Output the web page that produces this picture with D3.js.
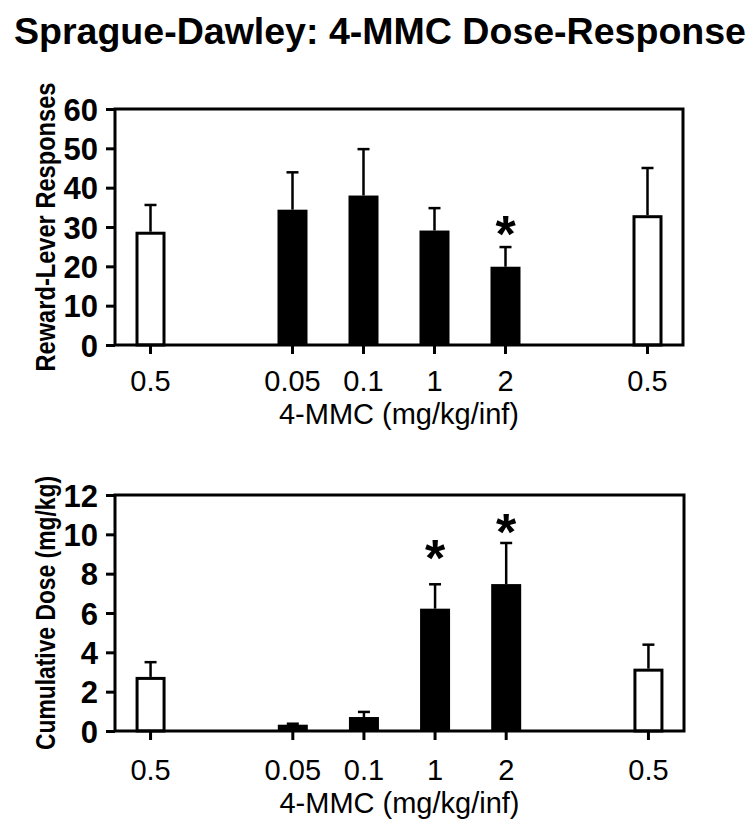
<!DOCTYPE html>
<html>
<head>
<meta charset="utf-8">
<script src="https://cdn.jsdelivr.net/npm/d3@7"></script>
<style>
  html, body { margin: 0; padding: 0; background: #fff; }
  svg { display: block; }
  text { font-family: "Liberation Sans", Arial, Helvetica, sans-serif; fill: #000; }
</style>
</head>
<body>
<svg id="chart" width="754" height="832"></svg>
<script>
// ---- Data ----
const slots = ["s0", "s1", "s2", "s3", "s4", "s5", "s6", "s7"];          // 8 positions incl. gaps
const barSlots = ["s0", "s2", "s3", "s4", "s5", "s7"];
const doseLabels = ["0.5", "0.05", "0.1", "1", "2", "0.5"];
const barKinds = ["open", "filled", "filled", "filled", "filled", "open"];

const rewardMean = [28.8, 34.4, 38.0, 29.1, 19.9, 33.0];
const rewardSem  = [6.8, 9.5, 11.8, 5.7, 5.0, 12.0];
const rewardStars = [null, null, null, null, 31.0, null];
const rewardTicks = [0, 10, 20, 30, 40, 50, 60];

const doseMean = [2.75, 0.32, 0.71, 6.22, 7.47, 3.17];
const doseSem  = [0.75, 0.05, 0.26, 1.24, 2.09, 1.22];
const doseStars = [null, null, null, 9.35, 10.7, null];
const doseTicks = [0, 2, 4, 6, 8, 10, 12];

const titleText = "Sprague-Dawley: 4-MMC Dose-Response";
const xTitle = "4-MMC (mg/kg/inf)";

// ---- Drawing ----
const svg = d3.select("#chart");

svg.append("text")
  .attr("x", 14).attr("y", 44)
  .attr("font-size", 37).attr("font-weight", "bold")
  .attr("textLength", 732).attr("lengthAdjust", "spacingAndGlyphs")
  .text(titleText);

function panel(cfg) {
  const { top, bottom, left, right, yMax, ticks, means, sems, stars, yTitle, yTitleLen, tickBase, titleBase } = cfg;
  const x = d3.scaleBand().domain(slots).range([left, right]).padding(0);
  const y = d3.scaleLinear().domain([0, yMax]).range([bottom, top]);
  const g = svg.append("g");
  const barW = 30;
  const data = barSlots.map((s, i) => ({ s, label: doseLabels[i], kind: barKinds[i], m: means[i], e: sems[i], star: stars[i] }));

  const cx = d => x(d.s) + x.bandwidth() / 2;
  g.selectAll(".err").data(data).enter().append("line")
    .attr("x1", cx).attr("x2", cx)
    .attr("y1", d => y(d.m)).attr("y2", d => y(d.m + d.e))
    .attr("stroke", "#000").attr("stroke-width", 2.5);
  g.selectAll(".cap").data(data).enter().append("line")
    .attr("x1", d => cx(d) - 6).attr("x2", d => cx(d) + 6)
    .attr("y1", d => y(d.m + d.e)).attr("y2", d => y(d.m + d.e))
    .attr("stroke", "#000").attr("stroke-width", 2.5);

  g.selectAll(".bar").data(data).enter().append("rect")
    .attr("x", d => cx(d) - barW / 2 + (d.kind === "open" ? 1.5 : 0))
    .attr("width", d => d.kind === "open" ? barW - 3 : barW)
    .attr("y", d => y(d.m) + (d.kind === "open" ? 1.5 : 0))
    .attr("height", d => y(0) - y(d.m) - (d.kind === "open" ? 1.5 : 0))
    .attr("fill", d => d.kind === "open" ? "#fff" : "#000")
    .attr("stroke", "#000").attr("stroke-width", d => d.kind === "open" ? 3 : 0);

  g.selectAll(".star").data(data.filter(d => d.star != null)).enter().append("text")
    .attr("x", cx).attr("y", d => y(d.star) + 29)
    .attr("text-anchor", "middle")
    .attr("font-size", 52).attr("font-weight", "bold")
    .text("*");

  g.append("rect")
    .attr("x", left).attr("y", top).attr("width", right - left).attr("height", bottom - top)
    .attr("fill", "none").attr("stroke", "#000").attr("stroke-width", 3);

  const yAxis = d3.axisLeft(y).tickValues(ticks).tickSize(9).tickPadding(8);
  const ya = g.append("g").attr("transform", `translate(${left},0)`).call(yAxis);
  ya.select(".domain").remove();
  ya.selectAll(".tick line").attr("stroke", "#000").attr("stroke-width", 3);
  ya.selectAll(".tick text").attr("font-size", 31).attr("font-weight", "bold")
    .attr("font-family", '"Liberation Sans", Arial, sans-serif').attr("fill", "#000")
    .attr("dy", "0.36em");

  const xAxis = d3.axisBottom(x).tickValues(barSlots).tickSize(9).tickFormat((s, i) => doseLabels[i]).tickPadding(0);
  const xa = g.append("g").attr("transform", `translate(0,${bottom})`).call(xAxis);
  xa.select(".domain").remove();
  xa.selectAll(".tick line").attr("stroke", "#000").attr("stroke-width", 3);
  xa.selectAll(".tick text").attr("font-size", 29)
    .attr("font-family", '"Liberation Sans", Arial, sans-serif').attr("fill", "#000")
    .attr("dy", null).attr("y", tickBase - bottom);

  g.append("text")
    .attr("x", (left + right) / 2).attr("y", titleBase)
    .attr("text-anchor", "middle").attr("font-size", 29)
    .text(xTitle);

  g.append("text")
    .attr("transform", `translate(55,${(top + bottom) / 2}) rotate(-90)`)
    .attr("text-anchor", "middle").attr("font-size", 27).attr("font-weight", "bold")
    .attr("textLength", yTitleLen).attr("lengthAdjust", "spacingAndGlyphs")
    .text(yTitle);
}

panel({ top: 109, bottom: 345, left: 115, right: 683, yMax: 60, ticks: rewardTicks,
        means: rewardMean, sems: rewardSem, stars: rewardStars,
        yTitle: "Reward-Lever Responses", yTitleLen: 289, tickBase: 391, titleBase: 424 });
panel({ top: 495, bottom: 731, left: 115, right: 684, yMax: 12, ticks: doseTicks,
        means: doseMean, sems: doseSem, stars: doseStars,
        yTitle: "Cumulative Dose (mg/kg)", yTitleLen: 274, tickBase: 780, titleBase: 813 });
</script>
</body>
</html>
